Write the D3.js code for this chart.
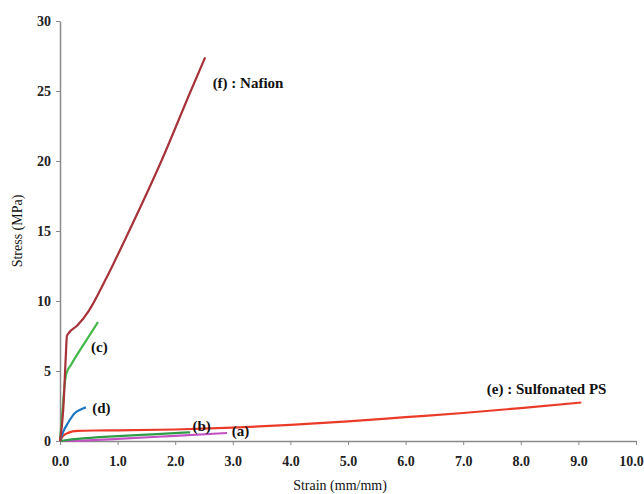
<!DOCTYPE html>
<html>
<head>
<meta charset="utf-8">
<script src="https://cdnjs.cloudflare.com/ajax/libs/d3/7.8.5/d3.min.js"></script>
<style>
 body { margin: 0; background: #fff; }
 .tick text { font-family: "Liberation Serif", serif; font-weight: bold; font-size: 14px; fill: #222; }
 .lbl { font-family: "Liberation Serif", serif; font-weight: bold; font-size: 15px; fill: #111; }
 .title { font-family: "Liberation Serif", serif; font-size: 14px; fill: #111; }
</style>
</head>
<body>
<svg id="chart" width="644" height="494"></svg>
<script>
// strain (mm/mm), stress (MPa)
var nafionX = [0, 0.06, 0.1, 0.12, 0.16, 0.3, 0.5, 0.8, 1.2, 1.76, 2.27, 2.52];
var nafionY = [0, 2.5, 6, 7.5, 7.75, 8.25, 9.3, 11.6, 15, 20, 25, 27.4];
var sulfX = [0, 0.05, 0.15, 0.3, 0.6, 1.0, 2.0, 3.0, 4.0, 5.0, 6.0, 7.0, 8.0, 9.05];
var sulfY = [0, 0.35, 0.6, 0.72, 0.75, 0.76, 0.82, 0.95, 1.15, 1.4, 1.7, 2.0, 2.35, 2.75];
var cX = [0, 0.04, 0.08, 0.11, 0.2, 0.38, 0.52, 0.66];
var cY = [0, 2, 4, 4.8, 5.5, 6.7, 7.6, 8.5];
var dX = [0, 0.05, 0.14, 0.26, 0.36, 0.45];
var dY = [0, 0.6, 1.3, 2.0, 2.25, 2.4];
var bX = [0, 0.3, 1.0, 1.6, 2.26];
var bY = [0, 0.15, 0.35, 0.48, 0.62];
var aX = [0, 0.5, 1.0, 2.0, 2.9];
var aY = [0, 0.05, 0.15, 0.37, 0.57];
var xTicks = [0, 1, 2, 3, 4, 5, 6, 7, 8, 9, 10];
var yTicks = [0, 5, 10, 15, 20, 25, 30];

var series = [
  { xs: aX, ys: aY, color: "#c352c3" },
  { xs: bX, ys: bY, color: "#2f9c48" },
  { xs: sulfX, ys: sulfY, color: "#ea3b28" },
  { xs: dX, ys: dY, color: "#1c76c2" },
  { xs: cX, ys: cY, color: "#45b84a" },
  { xs: nafionX, ys: nafionY, color: "#a8323a" }
];

var labels = [
  { text: "(f) : Nafion", x: 2.65, y: 25.6 },
  { text: "(c)", x: 0.54, y: 6.75 },
  { text: "(d)", x: 0.56, y: 2.35 },
  { text: "(b)", x: 2.3, y: 1.1 },
  { text: "(a)", x: 2.98, y: 0.75 },
  { text: "(e) : Sulfonated PS", x: 7.41, y: 3.7 }
];

var svg = d3.select("#chart");
var x = d3.scaleLinear().domain([0, 10]).range([60, 636]);
var y = d3.scaleLinear().domain([0, 30]).range([441, 21]);

var xAxis = svg.append("g")
   .attr("transform", "translate(0," + y(0) + ")")
   .call(d3.axisBottom(x).tickValues(xTicks).tickFormat(d3.format(".1f")).tickSize(4).tickSizeOuter(0).tickPadding(11));
xAxis.selectAll(".tick:last-of-type text").attr("dx", "-5");
var yAxis = svg.append("g")
   .attr("transform", "translate(" + x(0) + ",0)")
   .call(d3.axisLeft(y).tickValues(yTicks).tickSize(4).tickSizeOuter(0).tickPadding(5));
svg.selectAll(".domain").attr("stroke", "#8a8a8a").attr("stroke-width", 1.5);
svg.selectAll(".tick line").attr("stroke", "#8a8a8a");

var line = d3.line()
   .x(function(d) { return x(d[0]); })
   .y(function(d) { return y(d[1]); })
   .curve(d3.curveMonotoneX);

series.forEach(function(s) {
   svg.append("path")
      .datum(s.xs.map(function(v, i) { return [v, s.ys[i]]; }))
      .attr("fill", "none")
      .attr("stroke", s.color)
      .attr("stroke-width", 2.2)
      .attr("d", line);
});

svg.selectAll(".lbl")
   .data(labels)
   .enter()
   .append("text")
   .attr("class", "lbl")
   .attr("x", function(d) { return x(d.x); })
   .attr("y", function(d) { return y(d.y); })
   .attr("dy", "0.35em")
   .text(function(d) { return d.text; });

svg.append("text")
   .attr("class", "title")
   .attr("x", 340).attr("y", 490)
   .attr("text-anchor", "middle")
   .text("Strain (mm/mm)");
svg.append("text")
   .attr("class", "title")
   .attr("transform", "translate(22,231) rotate(-90)")
   .attr("text-anchor", "middle")
   .text("Stress (MPa)");
</script>
</body>
</html>
